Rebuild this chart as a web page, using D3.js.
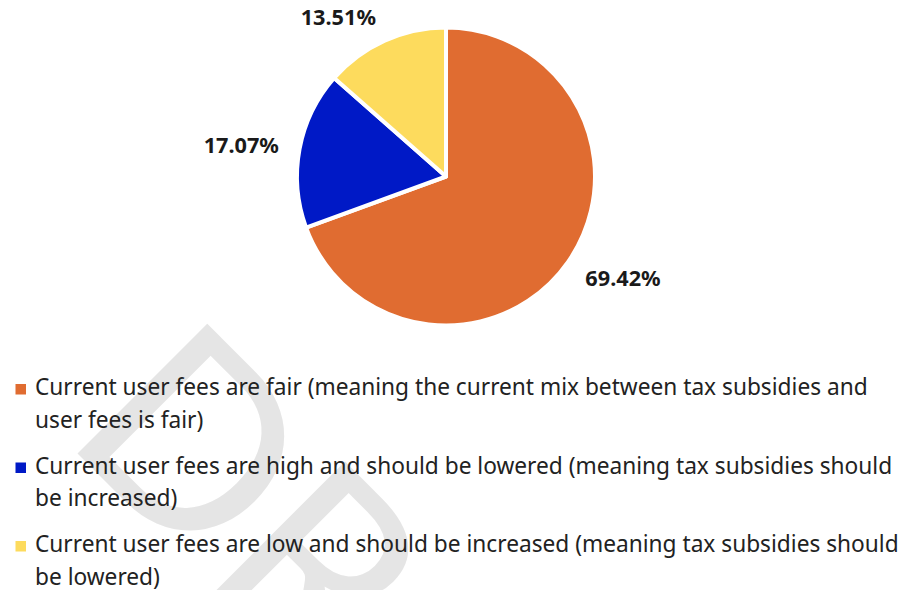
<!DOCTYPE html>
<html>
<head>
<meta charset="utf-8">
<script src="https://cdn.jsdelivr.net/npm/d3@7/dist/d3.min.js"></script>
<style>
  html, body { margin: 0; padding: 0; background: #fff; }
  svg { display: block; }
</style>
</head>
<body>
<svg id="chart" width="909" height="590"></svg>
<script>
// Survey responses on user fees
const categories = [
  ["Current user fees are fair (meaning the current mix between tax subsidies and", "user fees is fair)"],
  ["Current user fees are high and should be lowered (meaning tax subsidies should", "be increased)"],
  ["Current user fees are low and should be increased (meaning tax subsidies should", "be lowered)"]
];
const shares = [69.42, 17.07, 13.51];
const colors = ["#E06C31", "#0019C6", "#FDDB5D"];
const watermark = "DRAFT";

const W = 909, H = 590;
const svg = d3.select("#chart");

// faint watermark behind everything
svg.append("text")
  .attr("transform", "translate(61,437) rotate(45)")
  .attr("font-family", "Lato, sans-serif")
  .attr("font-size", 256)
  .attr("fill", "#e5e5e5")
  .text(watermark);

const cx = 446, cy = 176.5, r = 149;

const pie = d3.pie().sort(null).value(d => d);
const arcs = pie(shares);
const arc = d3.arc().innerRadius(0).outerRadius(r);

const g = svg.append("g").attr("transform", `translate(${cx},${cy})`);

g.selectAll("path.slice")
  .data(arcs)
  .join("path")
  .attr("class", "slice")
  .attr("d", arc)
  .attr("fill", (d, i) => colors[i])
  .attr("stroke", "#fff")
  .attr("stroke-width", 4)
  .attr("stroke-linejoin", "round");

// value labels just outside each slice
const labelRx = 170, labelRy = 176;
g.selectAll("text.val")
  .data(arcs)
  .join("text")
  .attr("class", "val")
  .each(function (d) {
    const a = (d.startAngle + d.endAngle) / 2;
    const x = Math.sin(a) * labelRx, y = -Math.cos(a) * labelRy;
    d3.select(this)
      .attr("x", x)
      .attr("y", y)
      .attr("text-anchor", x < 0 ? "end" : "start");
  })
  .attr("dominant-baseline", "central")
  .attr("font-family", "'Noto Sans', sans-serif")
  .attr("font-weight", "bold")
  .attr("font-size", 21.7)
  .attr("fill", "#1a1a1a")
  .text(d => d.data.toFixed(2) + "%");

// legend
const legendTop = 395, lineH = 32.5, rowGap = 13.5;
let yPos = legendTop;
categories.forEach((lines, i) => {
  const row = svg.append("g");
  row.append("rect")
    .attr("x", 15.5).attr("y", yPos - 11)
    .attr("width", 10.5).attr("height", 10.5)
    .attr("fill", colors[i]);
  const t = row.append("text")
    .attr("font-family", "'Noto Sans', sans-serif")
    .attr("font-size", 22.7)
    .attr("fill", "#222");
  lines.forEach((ln, j) => {
    t.append("tspan").attr("x", 35).attr("y", yPos + j * lineH).text(ln);
  });
  yPos += lines.length * lineH + rowGap;
});
</script>
</body>
</html>
